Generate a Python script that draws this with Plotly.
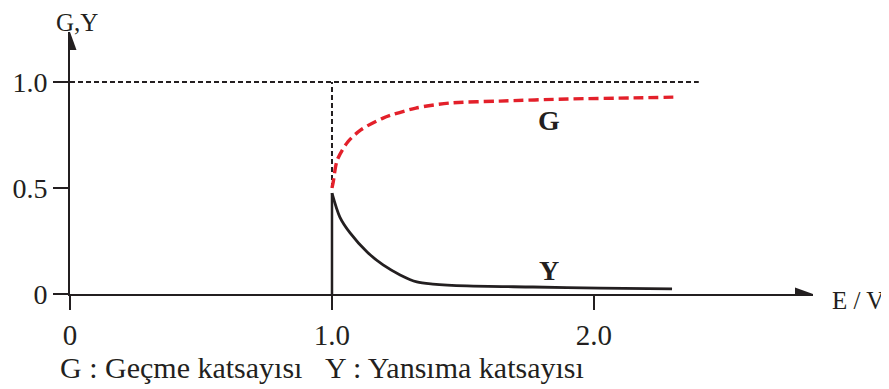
import plotly.graph_objects as go

# ---- data ----
x_ticks = [0, 1.0, 2.0]
x_tick_labels = ["0", "1.0", "2.0"]
y_ticks = [0, 0.5, 1.0]
y_tick_labels = ["0", "0.5", "1.0"]

G_E = [1.0, 1.005, 1.02, 1.06, 1.11, 1.195, 1.32, 1.45, 1.64, 1.90, 2.15, 2.32]
G_val = [0.50, 0.53, 0.632, 0.717, 0.774, 0.830, 0.877, 0.901, 0.910, 0.920, 0.925, 0.929]

Y_E = [1.0, 1.03, 1.069, 1.134, 1.195, 1.26, 1.324, 1.385, 1.515, 1.767, 2.023, 2.298]
Y_val = [0.476, 0.363, 0.288, 0.198, 0.137, 0.090, 0.057, 0.047, 0.038, 0.033, 0.028, 0.024]

E_threshold = 1.0
ref_level = 1.0
ref_end = 2.4

x_label = "E / V"
y_label = "G,Y"
footer = "G : Geçme katsayısı\u00a0\u00a0\u00a0Y : Yansıma katsayısı"

FONT = "Liberation Serif, Times New Roman, serif"
INK = "#231f20"
RED = "#e3202a"
FS = 29

X_MAX = 2.836
Y_MAX = 1.236

# page is offset by the browser's 8px body margin
W, H = 881, 381
L, T, PW, PH = 62, 24, 743, 262

fig = go.Figure()

fig.add_trace(go.Scatter(x=[0, ref_end], y=[ref_level, ref_level], mode="lines",
                         line=dict(color=INK, width=2, dash="5px,3px"), hoverinfo="skip"))
fig.add_trace(go.Scatter(x=[E_threshold, E_threshold], y=[G_val[0], ref_level], mode="lines",
                         line=dict(color=INK, width=2, dash="5px,3px"), hoverinfo="skip"))
fig.add_trace(go.Scatter(x=[E_threshold, E_threshold], y=[0, Y_val[0]], mode="lines",
                         line=dict(color=INK, width=2.5), hoverinfo="skip"))
fig.add_trace(go.Scatter(x=Y_E, y=Y_val, mode="lines",
                         line=dict(color=INK, width=2.8, shape="spline", smoothing=0.8), name="Y"))
fig.add_trace(go.Scatter(x=G_E, y=G_val, mode="lines",
                         line=dict(color=RED, width=3.4, dash="10px,5px", shape="spline", smoothing=0.8),
                         name="G"))

# arrowheads
fig.add_shape(type="path", xref="x", yref="y", xsizemode="pixel", ysizemode="pixel",
              xanchor=X_MAX, yanchor=0, path="M0,0 L-18,6.5 L-18,-6.5 Z",
              fillcolor=INK, line=dict(color=INK, width=0))
fig.add_shape(type="path", xref="x", yref="y", xsizemode="pixel", ysizemode="pixel",
              xanchor=0, yanchor=Y_MAX, path="M0,0 L-6.5,-18 L6.5,-18 Z",
              fillcolor=INK, line=dict(color=INK, width=0))

anns = [
    dict(x=1.83, y=0.82, text="<b>G</b>", xref="x", yref="y", size=28),
    dict(x=1.83, y=0.11, text="<b>Y</b>", xref="x", yref="y", size=28),
    dict(x=1.0, y=0, text=x_label, xref="paper", yref="paper", xanchor="left", yanchor="middle",
         xshift=17, yshift=-6, size=25),
    dict(x=0, y=1.0, text=y_label, xref="paper", yref="paper", xanchor="center", yanchor="middle",
         xshift=7, yshift=10, size=25),
    dict(x=-12 / PW, y=-73 / PH, text=footer, xref="paper", yref="paper", xanchor="left",
         yanchor="middle", size=30),
]
for a in anns:
    size = a.pop("size", FS)
    fig.add_annotation(showarrow=False, font=dict(family=FONT, color=INK, size=size), **a)

fig.update_layout(
    width=W, height=H,
    margin=dict(l=L, r=W - L - PW, t=T, b=H - T - PH, autoexpand=False),
    paper_bgcolor="white", plot_bgcolor="white",
    showlegend=False,
    font=dict(family=FONT, color=INK, size=FS),
)
fig.update_xaxes(range=[0, X_MAX], showgrid=False, zeroline=False, showline=True,
                 linecolor=INK, linewidth=2, ticks="outside", ticklen=14, tickwidth=1.5,
                 tickcolor=INK, tickvals=x_ticks, ticktext=x_tick_labels, automargin=False,
                 tickfont=dict(family=FONT, size=FS, color=INK))
fig.update_yaxes(range=[0, Y_MAX], showgrid=False, zeroline=False, showline=True,
                 linecolor=INK, linewidth=2, ticks="outside", ticklen=15, tickwidth=1.5,
                 tickcolor=INK, tickvals=y_ticks, ticktext=y_tick_labels, automargin=False,
                 ticklabelstandoff=0,
                 tickfont=dict(family=FONT, size=28, color=INK))

fig.write_html("out.html")
